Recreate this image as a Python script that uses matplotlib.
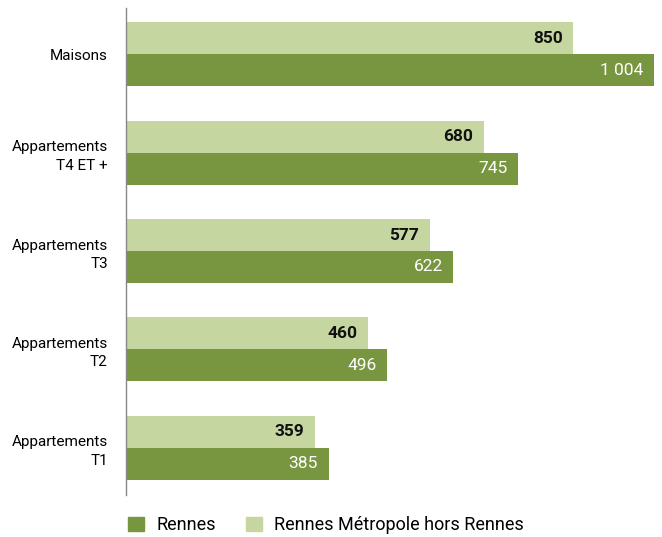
import numpy as np
import matplotlib.pyplot as plt
from matplotlib.patches import Patch

plt.rcParams['font.family'] = ['Roboto', 'DejaVu Sans']

categories = ['Maisons', 'Appartements\nT4 ET +', 'Appartements\nT3', 'Appartements\nT2', 'Appartements\nT1']
metropole = [850, 680, 577, 460, 359]
rennes = [1004, 745, 622, 496, 385]
labels_metropole = ['850', '680', '577', '460', '359']
labels_rennes = ['1 004', '745', '622', '496', '385']

dark = '#77963f'
light = '#c5d6a0'

fig = plt.figure(figsize=(6.62, 5.37), dpi=100)
ax = fig.add_axes([126/662, 1-495/537, 536/662, 487/537])

y = np.arange(len(categories))
h = 0.325
ax.barh(y - h/2, metropole, height=h, color=light)
ax.barh(y + h/2, rennes, height=h, color=dark)

for i in range(len(categories)):
    ax.text(metropole[i] - 20, y[i] - h/2, labels_metropole[i], ha='right', va='center',
            fontsize=12.5, fontweight='bold', color='#111111')
    ax.text(rennes[i] - 20, y[i] + h/2, labels_rennes[i], ha='right', va='center',
            fontsize=12.5, color='white')

ax.set_xlim(0, 1019)
ax.set_ylim(4.48, -0.47)
ax.set_yticks(y)
ax.set_yticklabels(categories, fontsize=11, linespacing=1.4)
ax.tick_params(axis='y', length=0, pad=13)
ax.set_xticks([])
for s in ['top', 'right', 'bottom']:
    ax.spines[s].set_visible(False)
ax.spines['left'].set_color('#888888')
ax.spines['left'].set_linewidth(1)

handles = [Patch(color=dark, label='Rennes'), Patch(color=light, label='Rennes Métropole hors Rennes')]
fig.legend(handles=handles, loc='lower left', bbox_to_anchor=(112/662, -0.025), ncol=2,
           frameon=False, fontsize=13, handlelength=0.85, handleheight=0.85,
           handletextpad=0.7, columnspacing=1.7)

fig.savefig('out.png', dpi=100)
